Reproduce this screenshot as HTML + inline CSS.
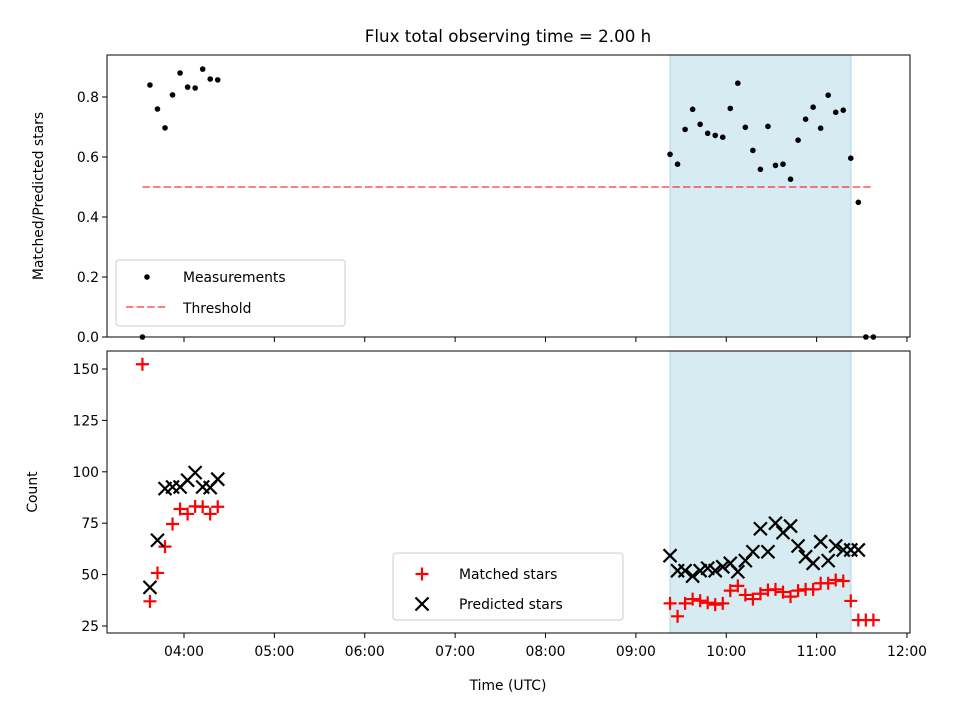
<!DOCTYPE html>
<html><head><meta charset="utf-8"><style>
body{margin:0;background:#fff}
svg text{font-family:"DejaVu Sans","Liberation Sans",sans-serif;fill:#000}
</style></head><body>
<svg id="c" width="960" height="720" xmlns="http://www.w3.org/2000/svg"></svg>
<script>
const earlyStart = 3.54, lateStart = 9.378, step = 1/12;
const ratioEarly = [0.0,0.84,0.76,0.697,0.807,0.88,0.833,0.83,0.893,0.86,0.857];
const ratioLate = [0.609,0.576,0.692,0.759,0.709,0.679,0.672,0.666,0.762,0.846,0.699,0.622,0.559,0.702,0.572,0.576,0.526,0.656,0.726,0.766,0.696,0.806,0.749,0.756,0.596,0.449,0.0,0.0];
const matchedEarly = [152.3,37,50.8,63.6,74.6,81.9,79.5,83.2,83,79.5,83];
const predictedEarly = [null,43.8,66.7,91.8,92.6,92.6,95.9,99.6,92.6,92.3,96.4];
const matchedLate = [36,29.7,36,38.1,37.3,36.3,35.4,36,42.2,44.5,40.1,38.1,40.7,42.5,42.8,41.5,39.3,42.2,42.8,42.8,45.8,45.8,47.4,46.9,37.2,27.9,27.9,27.9];
const predictedLate = [59.2,51.9,51.9,49.3,51.9,53.1,51.9,53.8,55.5,51.4,56.8,61.1,72.3,61.1,75,70.4,73.6,63.9,58.7,55.5,66,56.8,63.9,62,62,62,null,null];
const xTickLabels = ["04:00","05:00","06:00","07:00","08:00","09:00","10:00","11:00","12:00"];
const xTickHours = [4,5,6,7,8,9,10,11,12];
const topTicks = [0,0.2,0.4,0.6,0.8];
const botTicks = [25,50,75,100,125,150];
const threshold = 0.5, spanStart = 9.378, spanEnd = 11.38;

const svg = document.getElementById('c');
const NS = 'http://www.w3.org/2000/svg';
function mk(tag, attrs, name, parent){
  const e = document.createElementNS(NS, tag);
  for (const k in attrs) e.setAttribute(k, attrs[k]);
  
  
  (parent||svg).appendChild(e);
  return e;
}
const L=107,R=910;
const xs = h => 184 + (h-4)*90.375;
const yTop = v => 337 - v*300;
const yBot = v => 626 - (v-25)*2.056;
function times(start,n){const a=[];for(let i=0;i<n;i++)a.push(start+i*step);return a;}
const tE = times(earlyStart, ratioEarly.length), tL = times(lateStart, ratioLate.length);

const ti = mk('text',{x:508,y:42,'text-anchor':'middle','font-size':'16.7px'},'chart-title'); ti.textContent='Flux total observing time = 2.00 h';

mk('rect',{x:xs(spanStart),y:55,width:xs(spanEnd)-xs(spanStart),height:282,fill:'#add8e6','fill-opacity':0.5,stroke:'#add8e6'},'observing-span-top');
mk('rect',{x:xs(spanStart),y:351,width:xs(spanEnd)-xs(spanStart),height:282,fill:'#add8e6','fill-opacity':0.5,stroke:'#add8e6'},'observing-span-bottom');

mk('line',{x1:xs(earlyStart),x2:xs(tL[tL.length-1]),y1:yTop(threshold),y2:yTop(threshold),stroke:'#ff0000','stroke-opacity':0.5,'stroke-width':2,'stroke-dasharray':'7.4,3.2'},'threshold-line');

const gT = mk('g',{},'measurements-series');
[[tE,ratioEarly],[tL,ratioLate]].forEach(([t,v])=>v.forEach((d,i)=>{
  const c=document.createElementNS(NS,'circle');
  c.setAttribute('cx',xs(t[i]));c.setAttribute('cy',yTop(d));c.setAttribute('r',2.8);c.setAttribute('fill','#000');
  
  
  gT.appendChild(c);
}));

const gM = mk('g',{},'matched-stars-series'), gP = mk('g',{},'predicted-stars-series');
function plus(x,y,parent,name){mk('path',{d:`M${x-6.5},${y}H${x+6.5}M${x},${y-6.5}V${y+6.5}`,stroke:'#ff0000','stroke-width':2.2},name,parent);}
function cross(x,y,parent,name){mk('path',{d:`M${x-6.5},${y-6.5}L${x+6.5},${y+6.5}M${x-6.5},${y+6.5}L${x+6.5},${y-6.5}`,stroke:'#000','stroke-width':2.2},name,parent);}
[[tE,matchedEarly],[tL,matchedLate]].forEach(([t,v])=>v.forEach((d,i)=>{if(d!=null)plus(xs(t[i]),yBot(d),gM,'matched-point');}));
[[tE,predictedEarly],[tL,predictedLate]].forEach(([t,v])=>v.forEach((d,i)=>{if(d!=null)cross(xs(t[i]),yBot(d),gP,'predicted-point');}));

mk('rect',{x:L,y:55,width:R-L,height:282,fill:'none',stroke:'#000','stroke-width':1},'top-axes-frame');
mk('rect',{x:L,y:351,width:R-L,height:282,fill:'none',stroke:'#000','stroke-width':1},'bottom-axes-frame');

xTickHours.forEach((h,i)=>{
  const x=xs(h);
  mk('line',{x1:x,x2:x,y1:337,y2:342,stroke:'#000'},'top-x-tick');
  mk('line',{x1:x,x2:x,y1:633,y2:638,stroke:'#000'},'bottom-x-tick');
  const t=mk('text',{x:x,y:656,'text-anchor':'middle','font-size':'13.9px'},'x-tick-label'); t.textContent=xTickLabels[i];
});
topTicks.forEach(v=>{
  const y=yTop(v);
  mk('line',{x1:102,x2:L,y1:y,y2:y,stroke:'#000'},'top-y-tick');
  const t=mk('text',{x:99,y:y+5,'text-anchor':'end','font-size':'13.9px'},'top-y-tick-label'); t.textContent=v.toFixed(1);
});
botTicks.forEach(v=>{
  const y=yBot(v);
  mk('line',{x1:102,x2:L,y1:y,y2:y,stroke:'#000'},'bottom-y-tick');
  const t=mk('text',{x:99,y:y+5,'text-anchor':'end','font-size':'13.9px'},'bottom-y-tick-label'); t.textContent=v;
});
const xl=mk('text',{x:508,y:690,'text-anchor':'middle','font-size':'13.9px'},'x-axis-title'); xl.textContent='Time (UTC)';
const yl1=mk('text',{x:43,y:196,'text-anchor':'middle','font-size':'13.9px',transform:'rotate(-90 43 196)'},'top-y-axis-title'); yl1.textContent='Matched/Predicted stars';
const yl2=mk('text',{x:37,y:492,'text-anchor':'middle','font-size':'13.9px',transform:'rotate(-90 37 492)'},'bottom-y-axis-title'); yl2.textContent='Count';

const lg1=mk('g',{},'top-legend');
mk('rect',{x:116,y:260,width:229,height:66,rx:3,fill:'#fff','fill-opacity':0.8,stroke:'#ccc'},'legend-box',lg1);
mk('circle',{cx:147,cy:277,r:2.8,fill:'#000'},'legend-measurements-marker',lg1);
let t=mk('text',{x:183,y:282,'font-size':'13.9px'},'legend-measurements-label',lg1); t.textContent='Measurements';
mk('line',{x1:126,x2:167,y1:307,y2:307,stroke:'#ff0000','stroke-opacity':0.5,'stroke-width':2,'stroke-dasharray':'7.4,3.2'},'legend-threshold-marker',lg1);
t=mk('text',{x:183,y:313,'font-size':'13.9px'},'legend-threshold-label',lg1); t.textContent='Threshold';

const lg2=mk('g',{},'bottom-legend');
mk('rect',{x:393,y:553,width:230,height:67,rx:3,fill:'#fff','fill-opacity':0.8,stroke:'#ccc'},'legend-box',lg2);
plus(422,574,lg2,'legend-matched-marker');
t=mk('text',{x:459,y:579,'font-size':'13.9px'},'legend-matched-label',lg2); t.textContent='Matched stars';
cross(422,604,lg2,'legend-predicted-marker');
t=mk('text',{x:459,y:609,'font-size':'13.9px'},'legend-predicted-label',lg2); t.textContent='Predicted stars';
</script>
</body></html>
